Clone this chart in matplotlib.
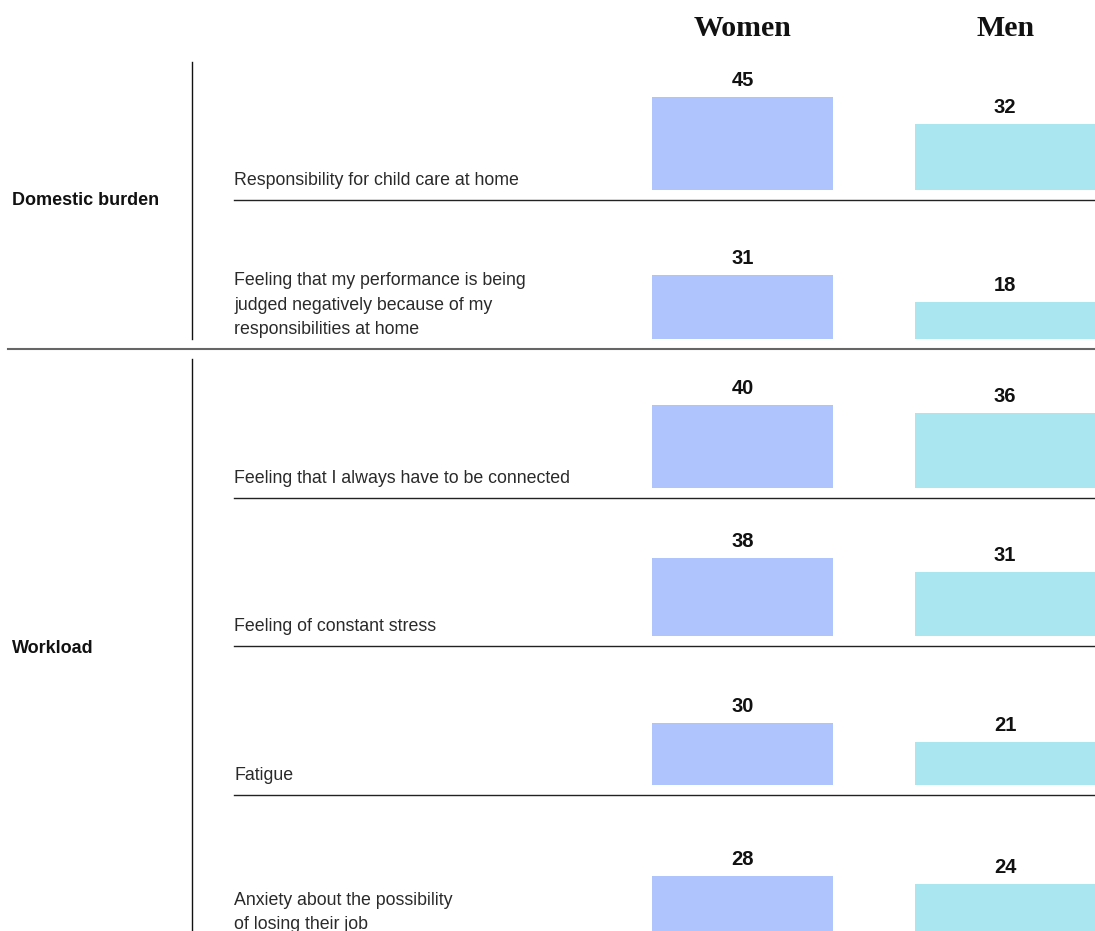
import matplotlib
matplotlib.use("Agg")
import matplotlib.pyplot as plt
from matplotlib.lines import Line2D

# Survey data: share of respondents (%) citing each challenge
labels = [
    "Responsibility for child care at home",
    "Feeling that my performance is being\njudged negatively because of my\nresponsibilities at home",
    "Feeling that I always have to be connected",
    "Feeling of constant stress",
    "Fatigue",
    "Anxiety about the possibility\nof losing their job",
]
women = [45, 31, 40, 38, 30, 28]
men = [32, 18, 36, 31, 21, 24]
groups = ["Domestic burden", "Workload"]
group_rows = [(0, 1), (2, 5)]
series_names = ["Women", "Men"]

W, H = 1095, 931
fig = plt.figure(figsize=(W / 100, H / 100), dpi=100)
fig.patch.set_facecolor("white")

# Overlay axes in pixel coordinates for text and rules
ov = fig.add_axes([0, 0, 1, 1])
ov.set_xlim(0, W)
ov.set_ylim(H, 0)
ov.axis("off")

SANS = "Liberation Sans"
SERIF = "Liberation Serif"
WOMEN_C = "#afc3fc"
MEN_C = "#aae6ef"

row0 = 190.0
pitch = 148.8
px_per_unit = 2.07
women_x, women_w = 742.5, 181
men_x, men_w = 1005.0, 180

# Column headers
ov.text(women_x, 28.5, series_names[0], ha="center", va="center",
        fontsize=21.5, fontweight="bold", family=SERIF, color="#111111")
ov.text(men_x + 1, 28.5, series_names[1], ha="center", va="center",
        fontsize=21.5, fontweight="bold", family=SERIF, color="#111111")

for i, lab in enumerate(labels):
    base = row0 + i * pitch
    # One axes per row: y measured in percentage points
    ax = fig.add_axes([0, 1 - base / H, 1, pitch / H])
    ax.set_xlim(0, W)
    ax.set_ylim(0, pitch / px_per_unit)
    ax.axis("off")
    ax.patch.set_alpha(0)
    vals = [women[i], men[i]]
    bars = ax.bar([women_x, men_x], vals, width=[women_w, men_w],
                  color=[WOMEN_C, MEN_C], clip_on=False)
    for b, v in zip(bars, vals):
        ax.annotate(f"{v}", (b.get_x() + b.get_width() / 2, v),
                    xytext=(0, 5), textcoords="offset points",
                    ha="center", va="bottom", fontsize=14.5,
                    fontweight="bold", family=SANS, color="#111111")
    # Row label
    ov.text(234, base - 5, lab, ha="left", va="baseline", fontsize=12.8,
            family=SANS, color="#2a2a2a", linespacing=1.56)
    # Separator under each row
    sep_y = base + 10
    if i == 1:
        ov.add_line(Line2D([8, W], [sep_y, sep_y], color="#666666", lw=1.5))
    elif i < len(labels) - 1:
        ov.add_line(Line2D([234, W], [sep_y, sep_y], color="#222222", lw=1.0))

# Group brackets and labels
for name, (r0, r1) in zip(groups, group_rows):
    if r0 == 0:
        top = 62
    else:
        top = row0 + (r0 - 1) * pitch + 20
    bot = row0 + r1 * pitch
    if r1 == len(labels) - 1:
        bot = 939
    ov.add_line(Line2D([192, 192], [top, bot], color="#111111", lw=1.0))
    ov.text(12, (top + bot) / 2, name, ha="left", va="center", fontsize=13,
            fontweight="bold", family=SANS, color="#111111")

fig.savefig("out.png", dpi=100, facecolor="white")
